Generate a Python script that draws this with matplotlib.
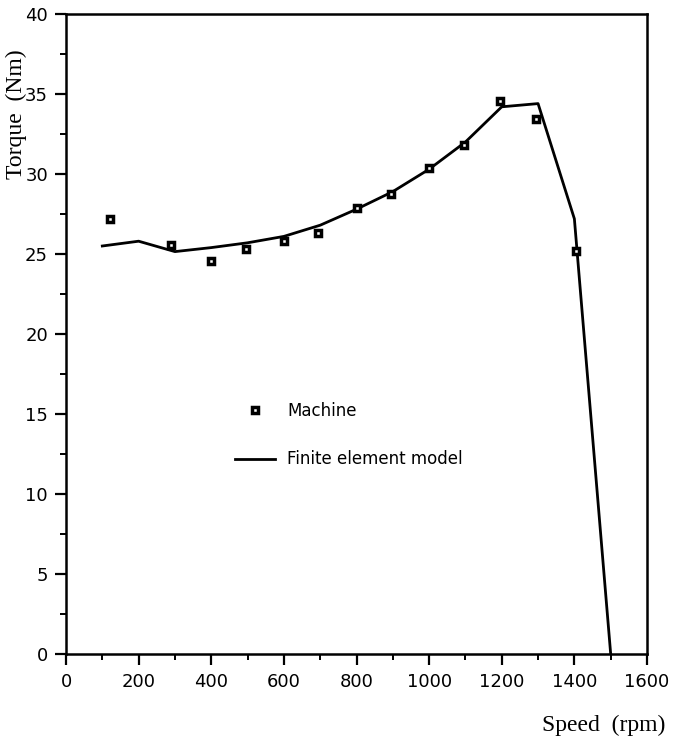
import matplotlib
matplotlib.use("Agg")
import matplotlib.pyplot as plt
from matplotlib.ticker import MultipleLocator

# dados medidos na maquina
machine_speed = [120, 290, 400, 495, 600, 695, 800, 895, 1000, 1095, 1195, 1295, 1405]
machine_torque = [27.2, 25.55, 24.55, 25.3, 25.8, 26.3, 27.85, 28.75, 30.35, 31.8, 34.55, 33.45, 25.2]

# modelo de elementos finitos
fem_speed = [100, 200, 300, 400, 500, 600, 700, 800, 900, 1000, 1100, 1200, 1300, 1400, 1500]
fem_torque = [25.5, 25.8, 25.15, 25.4, 25.7, 26.1, 26.8, 27.8, 28.9, 30.3, 32.0, 34.2, 34.4, 27.2, 0.0]

x_ticks = [0, 200, 400, 600, 800, 1000, 1200, 1400, 1600]
y_ticks = [0, 5, 10, 15, 20, 25, 30, 35, 40]

sans = ["DejaVu Sans"]
serif = ["Liberation Serif", "DejaVu Serif"]

fig = plt.figure(figsize=(6.78, 7.46), dpi=100)
ax = fig.add_axes([66 / 678, 92 / 746, 581 / 678, 640 / 746])

ax.plot(fem_speed, fem_torque, color="black", lw=2.0, label="Finite element model")
ax.plot(machine_speed, machine_torque, ls="none", marker="s", ms=4.6,
        mfc="white", mec="black", mew=2.5, label="Machine")

ax.set_xlim(0, 1600)
ax.set_ylim(0, 40)
ax.set_xticks(x_ticks)
ax.set_yticks(y_ticks)
ax.xaxis.set_minor_locator(MultipleLocator(100))
ax.yaxis.set_minor_locator(MultipleLocator(2.5))
ax.tick_params(which="major", direction="out", length=8, width=1.6, labelsize=13)
ax.tick_params(axis="x", which="major", pad=6)
ax.tick_params(axis="y", which="major", pad=5)
ax.tick_params(which="minor", direction="out", length=4, width=1.4)
for lab in ax.get_xticklabels() + ax.get_yticklabels():
    lab.set_family(sans)
for s in ax.spines.values():
    s.set_linewidth(1.8)

handles, labels = ax.get_legend_handles_labels()
leg = ax.legend([handles[1], handles[0]], [labels[1], labels[0]],
                loc="upper left", bbox_to_anchor=(0.291, 0.394), frameon=False,
                borderaxespad=0, borderpad=0,
                handlelength=2.4, handletextpad=0.72, labelspacing=1.83,
                prop={"family": sans, "size": 12})

fig.text(16 / 678, 1 - 114 / 746, "Torque  (Nm)", rotation=90, ha="center", va="center",
         family=serif, fontsize=17)
fig.text(604 / 678, 1 - 725 / 746, "Speed  (rpm)", ha="center", va="center",
         family=serif, fontsize=17)

fig.savefig("out.png", dpi=100)
